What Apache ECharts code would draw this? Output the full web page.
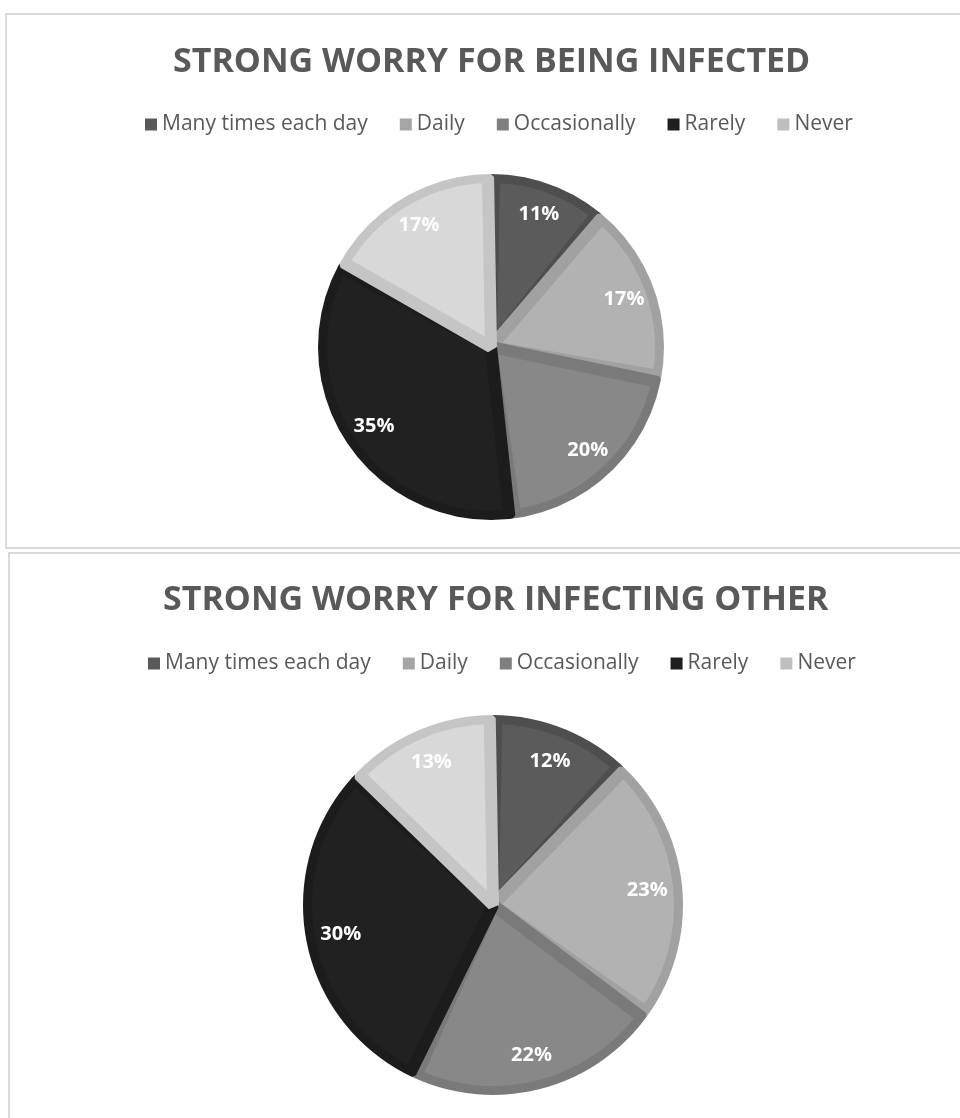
<!DOCTYPE html>
<html>
<head>
<meta charset="utf-8">
<script src="https://cdn.jsdelivr.net/npm/echarts@6/dist/echarts.min.js"></script>
<style>
  html, body { margin: 0; padding: 0; background: #ffffff; overflow: hidden; }
  body { width: 960px; height: 1118px; position: relative; }
  .panel { position: absolute; border: 2px solid #dadada; box-sizing: border-box; }
  #chart { position: absolute; left: 0; top: 0; width: 960px; height: 1118px; }
</style>
</head>
<body>
<div class="panel" style="left:5px; top:13px; width:970px; height:536px;"></div>
<div class="panel" style="left:8px; top:552px; width:970px; height:600px;"></div>
<div id="chart"></div>
<script>
// ---- data ----
const categories = ['Many times each day', 'Daily', 'Occasionally', 'Rarely', 'Never'];
const titles = ['STRONG WORRY FOR BEING INFECTED', 'STRONG WORRY FOR INFECTING OTHER'];
const beingInfected = [11, 17, 20, 35, 17];
const infectingOther = [12, 23, 22, 30, 13];

// ---- styles ----
const fillColors   = ['#5b5b5b', '#b2b2b2', '#888888', '#212121', '#d8d8d8'];
const borderColors = ['#4e4e4e', '#a1a1a1', '#7a7a7a', '#1c1c1c', '#c5c5c5'];
const legendColors = ['#595959', '#a5a5a5', '#7f7f7f', '#1f1f1f', '#bfbfbf'];

const FONT = '"Open Sans", "DejaVu Sans", sans-serif';

const panels = [
  { values: beingInfected, title: titles[0], cx: 491, cy: 347, r: 173,
    titleLeft: 168, titleTop: 40, legendLeft: 140, legendTop: 109 },
  { values: infectingOther, title: titles[1], cx: 493, cy: 905, r: 190,
    titleLeft: 158, titleTop: 578, legendLeft: 143, legendTop: 648 }
];

const series = [];
const title = [];
const legend = [];
panels.forEach((p) => {
  title.push({
    text: p.title, left: p.titleLeft, top: p.titleTop,
    textStyle: { fontFamily: FONT, fontSize: 34, fontWeight: 'bold', color: '#595959' }
  });
  legend.push({
    top: p.legendTop, left: p.legendLeft,
    icon: 'rect', itemWidth: 12, itemHeight: 12, itemGap: 32,
    selectedMode: false,
    textStyle: { fontFamily: FONT, fontSize: 21, color: '#595959' },
    data: categories.map((name, i) => ({ name, itemStyle: { color: legendColors[i] } }))
  });
  const common = {
    type: 'pie', silent: true, center: [p.cx, p.cy],
    startAngle: 90, clockwise: true, animation: false,
    labelLine: { show: false }
  };
  // base disc in the slice border colours
  series.push(Object.assign({}, common, {
    radius: p.r,
    label: { show: false },
    itemStyle: { borderWidth: 0 },
    data: categories.map((name, i) => ({ name, value: p.values[i], itemStyle: { color: borderColors[i] } }))
  }));
  // inner fills, with inset border strokes
  series.push(Object.assign({}, common, {
    radius: p.r - 3, padAngle: 2.0,
    label: { show: false },
    itemStyle: { borderWidth: 12, borderJoin: 'bevel' },
    data: categories.map((name, i) => ({
      name, value: p.values[i],
      itemStyle: { color: fillColors[i], borderColor: borderColors[i] }
    }))
  }));
  // white trim ring that keeps the outer edge at the disc radius
  series.push(Object.assign({}, common, {
    radius: [p.r, p.r + 8],
    label: { show: false },
    itemStyle: { color: '#ffffff', borderWidth: 0 },
    data: [{ name: '', value: 1 }]
  }));
  // percentage labels
  series.push(Object.assign({}, common, {
    radius: [p.r * 0.6, p.r],
    itemStyle: { color: 'rgba(0,0,0,0)', borderWidth: 0 },
    label: {
      show: true, position: 'inside', formatter: '{c}%',
      fontFamily: FONT, fontSize: 20, fontWeight: 'bold', color: '#ffffff'
    },
    data: categories.map((name, i) => ({ name, value: p.values[i] }))
  }));
});

const chart = echarts.init(document.getElementById('chart'), null, { renderer: 'canvas' });
chart.setOption({
  backgroundColor: 'transparent',
  animation: false,
  title, legend, series
});
</script>
</body>
</html>
